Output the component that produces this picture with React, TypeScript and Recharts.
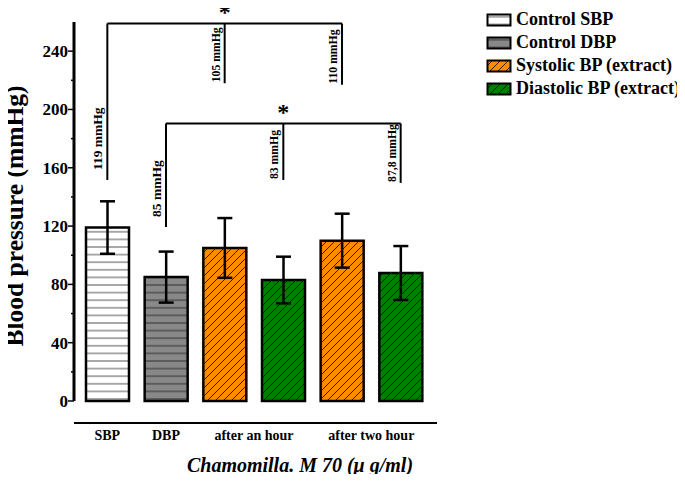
import { BarChart, Bar, XAxis, YAxis, Cell, ErrorBar, ReferenceLine, Legend } from 'recharts'

const groups = ['SBP', 'DBP', 'hour1Sys', 'hour1Dia', 'hour2Sys', 'hour2Dia']
const meanBP = [119, 85, 105, 83, 110, 87.8]
const sdBP = [18, 17.5, 20.5, 16, 18.5, 18.5]
const groupLabels = ['SBP', 'DBP', 'after an hour', '', 'after two hour', '']
const legendNames = ['Control SBP', 'Control DBP', 'Systolic BP (extract)', 'Diastolic BP (extract)']
const yTicks = [0, 20, 40, 60, 80, 100, 120, 140, 160, 180, 200, 220, 240]

// which legend entry each bar belongs to
const seriesOf = [0, 1, 2, 3, 2, 3]
const patternIds = ['hWhite', 'hGray', 'dOrange', 'dGreen']

const data = groups.map((g, i) => ({ group: g, mean: meanBP[i], sd: sdBP[i] }))

const serif = '"Liberation Serif", "Times New Roman", serif'
const fmtMmHg = (v: number) => `${String(v).replace('.', ',')} mmHg`

// significance brackets: bar indices, bracket height and where each leg stops (mmHg units)
const brackets = [
  { legs: [0, 2, 4], level: 259, ends: [151.6, 218, 217] },
  { legs: [1, 3, 5], level: 190.4, ends: [119.4, 151.6, 149.6] },
]

const W = 685
const H = 482
const PLOT_LEFT = 74
const PLOT_RIGHT = 437
const PAD_LEFT = 4
const PAD_RIGHT = 7
const BAND = (PLOT_RIGHT - PLOT_LEFT - PAD_LEFT - PAD_RIGHT) / groups.length

function LegLabel({ viewBox, text, size, gap, star }: any) {
  const { x, y, height } = viewBox
  const bottom = y + height
  return (
    <g fontFamily={serif} fontWeight="bold" fill="#000">
      <text transform={`translate(${x - 5},${bottom - gap}) rotate(-90)`} fontSize={size}>
        {text}
      </text>
      {star && (
        <text x={x} y={y - 3} textAnchor="middle" fontSize={24}>
          *
        </text>
      )}
    </g>
  )
}

function YTick({ x, y, payload }: any) {
  const major = payload.value % 40 === 0
  return (
    <g>
      <line x1={x - (major ? 6 : 3)} x2={x} y1={y} y2={y} stroke="#000" strokeWidth={1.5} />
      {major && (
        <text x={x - 6} y={y} dy="0.35em" textAnchor="end" fontFamily={serif} fontWeight="bold" fontSize={17} fill="#000">
          {payload.value}
        </text>
      )}
    </g>
  )
}

function GroupTick({ x, y, payload }: any) {
  const i = groups.indexOf(payload.value)
  const text = groupLabels[i]
  if (!text) return <g />
  const pair = i + 1 < groupLabels.length && groupLabels[i + 1] === ''
  return (
    <text x={x + (pair ? BAND / 2 : 0)} y={y + 17} textAnchor="middle" fontFamily={serif} fontWeight="bold" fontSize={14} fill="#000">
      {text}
    </text>
  )
}

function YTitle() {
  return (
    <text transform="translate(22.5,216) rotate(-90)" textAnchor="middle" fontFamily={serif} fontWeight="bold" fontSize={25.5} fill="#000">
      Blood pressure (mmHg)
    </text>
  )
}

function XTitle() {
  return (
    <text x={300} y={472} textAnchor="middle" fontFamily={serif} fontWeight="bold" fontStyle="italic" fontSize={20} fill="#000">
      Chamomilla. M 70 (μ g/ml)
    </text>
  )
}

function BPLegend() {
  return (
    <div style={{ fontFamily: serif, fontWeight: 'bold', fontSize: 18, color: '#000' }}>
      {legendNames.map((name, i) => (
        <div key={name} style={{ display: 'flex', alignItems: 'center', height: 23 }}>
          <svg width={27} height={14} style={{ marginRight: 3 }}>
            <rect x={1.5} y={1.5} width={23} height={11} fill={`url(#${patternIds[i]})`} stroke="#000" strokeWidth={2} />
          </svg>
          <span style={{ whiteSpace: 'nowrap' }}>{name}</span>
        </div>
      ))}
    </div>
  )
}

export default function App() {
  return (
    <div style={{ width: W, height: H, margin: -8, background: '#fff' }}>
      <BarChart
        width={W}
        height={H}
        data={data}
        margin={{ top: 22, right: W - PLOT_RIGHT, bottom: 0, left: 0 }}
      >
        <defs>
          <pattern id="hWhite" patternUnits="userSpaceOnUse" width={8} height={7.6}>
            <rect width={8} height={7.6} fill="#fff" />
            <line x1={0} x2={8} y1={3.8} y2={3.8} stroke="#555" strokeWidth={1} />
          </pattern>
          <pattern id="hGray" patternUnits="userSpaceOnUse" width={8} height={7.6}>
            <rect width={8} height={7.6} fill="#888" />
            <line x1={0} x2={8} y1={3.8} y2={3.8} stroke="#333" strokeWidth={1} />
          </pattern>
          <pattern id="dOrange" patternUnits="userSpaceOnUse" width={8} height={8}>
            <rect width={8} height={8} fill="#ff8c00" />
            <path d="M-2,2 L2,-2 M0,8 L8,0 M6,10 L10,6" stroke="#000" strokeWidth={0.8} />
          </pattern>
          <pattern id="dGreen" patternUnits="userSpaceOnUse" width={8} height={8}>
            <rect width={8} height={8} fill="#008000" />
            <path d="M-2,2 L2,-2 M0,8 L8,0 M6,10 L10,6" stroke="#000" strokeWidth={0.8} />
          </pattern>
        </defs>

        <XAxis dataKey="group" height={22} axisLine={false} tickLine={false} tick={false} padding={{ left: PAD_LEFT, right: PAD_RIGHT }} />
        <XAxis
          xAxisId="grp"
          dataKey="group"
          height={H - 401 - 22}
          padding={{ left: PAD_LEFT, right: PAD_RIGHT }}
          axisLine={{ stroke: '#000', strokeWidth: 2 }}
          tickLine={false}
          tickSize={0}
          tickMargin={0}
          interval={0}
          tick={<GroupTick />}
          label={<XTitle />}
        />
        <YAxis
          width={PLOT_LEFT}
          domain={[0, 260]}
          ticks={yTicks}
          interval={0}
          axisLine={{ stroke: '#000', strokeWidth: 3 }}
          tickLine={false}
          tickSize={0}
          tickMargin={0}
          tick={<YTick />}
          label={<YTitle />}
        />

        <Bar dataKey="mean" barSize={43} stroke="#000" strokeWidth={2.5} isAnimationActive={false}>
          {data.map((d, i) => (
            <Cell key={d.group} fill={`url(#${patternIds[seriesOf[i]]})`} />
          ))}
          <ErrorBar dataKey="sd" width={7.5} stroke="#000" strokeWidth={2.5} isAnimationActive={false} />
        </Bar>

        {brackets.map((b, bi) => (
          <ReferenceLine
            key={`h${bi}`}
            segment={[
              { x: groups[b.legs[0]], y: b.level },
              { x: groups[b.legs[b.legs.length - 1]], y: b.level },
            ]}
            stroke="#000"
            strokeWidth={2}
            ifOverflow="visible"
          />
        ))}
        {brackets.flatMap((b, bi) =>
          b.legs.map((leg, li) => (
            <ReferenceLine
              key={`v${bi}-${li}`}
              segment={[
                { x: groups[leg], y: b.level },
                { x: groups[leg], y: b.ends[li] },
              ]}
              stroke="#000"
              strokeWidth={2}
              ifOverflow="visible"
              label={
                <LegLabel
                  text={fmtMmHg(meanBP[leg])}
                  size={li === 0 ? 13.5 : 11.7}
                  gap={li === 0 ? 10 : 1}
                  star={li === 1}
                />
              }
            />
          ))
        )}

        <Legend
          layout="vertical"
          align="center"
          verticalAlign="middle"
          content={<BPLegend />}
          wrapperStyle={{ left: 486, top: 8, width: 199, height: 96 }}
        />
      </BarChart>
    </div>
  )
}
